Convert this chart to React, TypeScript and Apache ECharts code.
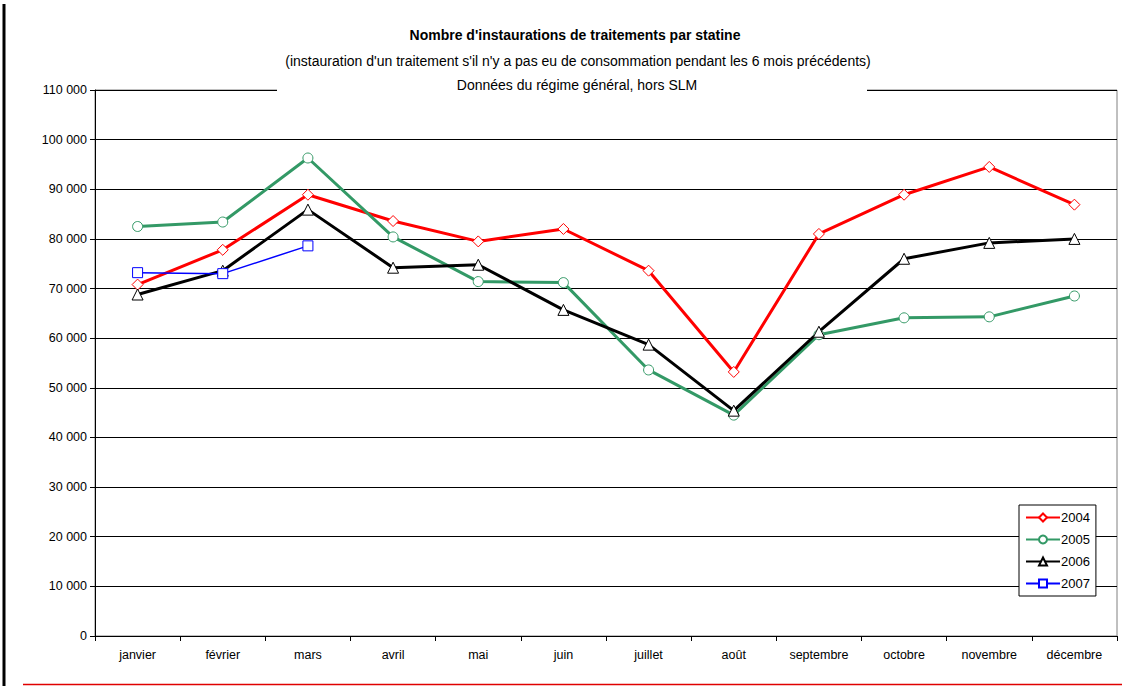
import React, { useEffect, useRef } from "react";
import * as echarts from "echarts";

const months = ["janvier", "février", "mars", "avril", "mai", "juin", "juillet", "août", "septembre", "octobre", "novembre", "décembre"];
const s2004 = [70800, 77800, 88900, 83600, 79500, 82000, 73600, 53200, 81000, 88900, 94500, 86900];
const s2005 = [82500, 83400, 96300, 80400, 71400, 71200, 53600, 44500, 60700, 64100, 64300, 68500];
const s2006 = [68800, 73600, 85900, 74200, 74800, 65700, 58700, 45400, 61300, 76000, 79200, 80000];
const s2007 = [73200, 73000, 78600];

const FONT = "'Liberation Sans Narrow', 'Liberation Sans', Arial, sans-serif";

export default function App() {
  const ref = useRef<HTMLDivElement>(null);
  useEffect(() => {
    const chart = echarts.init(ref.current!, null, { renderer: "svg" });
    const mk = (name: string, data: number[], color: string, symbol: string, width: number, size: number) => ({
      name,
      type: "line",
      data,
      symbol,
      symbolSize: size,
      showAllSymbol: true,
      lineStyle: { color, width },
      itemStyle: { color: "#fff", borderColor: color, borderWidth: 1 },
      emphasis: { disabled: true },
      z: 3,
    });
    chart.setOption({
      animation: false,
      backgroundColor: "#fff",
      textStyle: { fontFamily: FONT },
      title: [
        { text: "Nombre d'instaurations de traitements par statine", left: 570, textAlign: "center", top: 23, z: 10, textStyle: { fontSize: 14, fontWeight: "bold", color: "#000", fontFamily: FONT } },
        { text: "(instauration d'un traitement s'il n'y a pas eu de consommation pendant les 6 mois précédents)", left: 573, textAlign: "center", top: 49, z: 10, textStyle: { fontSize: 14, fontWeight: "normal", color: "#000", fontFamily: FONT } },
        { text: "Données du régime général, hors SLM", left: 572, textAlign: "center", top: 73, z: 10, textStyle: { fontSize: 14, fontWeight: "normal", color: "#000", fontFamily: FONT } },
      ],
      grid: { left: 95, right: 5, top: 90, bottom: 50, show: true, borderColor: "#808080", borderWidth: 1 },
      xAxis: {
        type: "category",
        data: months,
        boundaryGap: true,
        axisLine: { lineStyle: { color: "#000", width: 1 } },
        axisTick: { show: true, length: 5, lineStyle: { color: "#000" } },
        axisLabel: { color: "#000", fontSize: 12.5, margin: 12, fontFamily: FONT },
        splitLine: { show: false },
      },
      yAxis: {
        type: "value",
        min: 0,
        max: 110000,
        interval: 10000,
        axisLine: { show: true, lineStyle: { color: "#000", width: 1 } },
        axisTick: { show: true, length: 5, lineStyle: { color: "#000" } },
        axisLabel: {
          color: "#000",
          fontSize: 12.5,
          margin: 8,
          fontFamily: FONT,
          formatter: (v: number) => (v === 0 ? "0" : String(v).replace(/\B(?=(\d{3})+(?!\d))/g, " ")),
        },
        splitLine: { show: true, lineStyle: { color: "#000", width: 1 } },
      },
      legend: {
        orient: "vertical",
        left: 1019,
        top: 505,
        width: 78,
        backgroundColor: "#fff",
        borderColor: "#000",
        borderWidth: 1,
        padding: [6, 6, 6, 6],
        itemGap: 9,
        itemWidth: 34,
        itemHeight: 10,
        textStyle: { fontSize: 13, color: "#000", fontFamily: FONT, padding: [0, 0, 0, -4] },
        data: ["2004", "2005", "2006", "2007"],
      },
      graphic: [
        { type: "rect", shape: { x: 277, y: 85, width: 590, height: 8 }, style: { fill: "#fff" }, z: 4 },
        { type: "line", shape: { x1: 4, y1: 4, x2: 4, y2: 686 }, style: { stroke: "#000", lineWidth: 3 }, z: 4 },
        { type: "line", shape: { x1: 23, y1: 684.5, x2: 1122, y2: 684.5 }, style: { stroke: "#e00000", lineWidth: 1.5 }, z: 4 },
      ],
      series: [
        mk("2004", s2004, "#ff0000", "diamond", 3, 11),
        mk("2005", s2005, "#339966", "circle", 3, 10),
        mk("2006", s2006, "#000000", "triangle", 3, 11),
        mk("2007", s2007, "#0000ff", "rect", 1.5, 10),
      ],
    });
    return () => chart.dispose();
  }, []);
  return <div ref={ref} style={{ position: "fixed", left: 0, top: 0, width: 1122, height: 686 }} />;
}
